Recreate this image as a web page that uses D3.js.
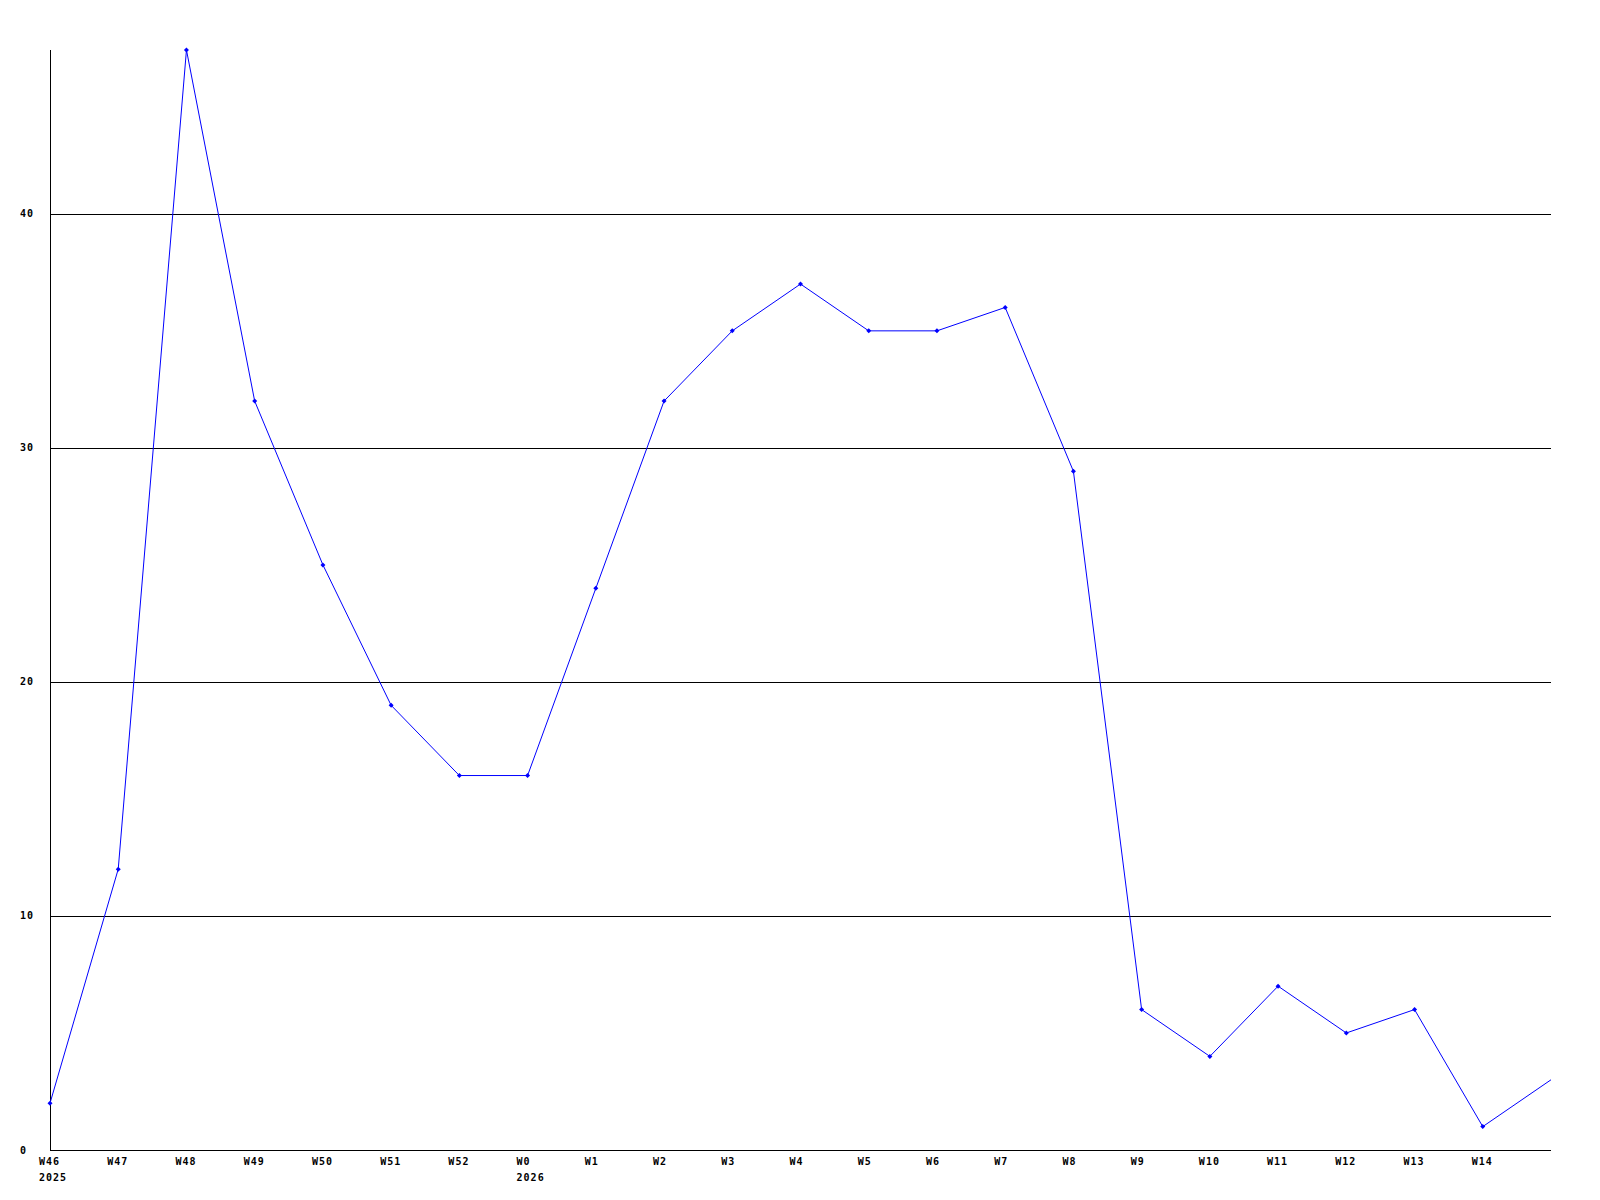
<!DOCTYPE html>
<html><head><meta charset="utf-8">
<script src="https://cdn.jsdelivr.net/npm/d3@7"></script>
<style>body{margin:0;background:#fff}text{font-family:"DejaVu Sans Mono",monospace;font-weight:bold;font-size:10px;letter-spacing:1px;fill:#000}</style>
</head><body><svg id="c" width="1600" height="1200"></svg>
<script>
const weeks = ["W46","W47","W48","W49","W50","W51","W52","W0","W1","W2","W3","W4","W5","W6","W7","W8","W9","W10","W11","W12","W13","W14","W15"];
const tickLabels = ["W46","W47","W48","W49","W50","W51","W52","W0","W1","W2","W3","W4","W5","W6","W7","W8","W9","W10","W11","W12","W13","W14",""];
const yearLabels = {"W46":"2025","W0":"2026"};
const values = [2,12,47,32,25,19,16,16,24,32,35,37,35,35,36,29,6,4,7,5,6,1,3];
const yTicks = [0,10,20,30,40];

const svg = d3.select("#c");
const L=50, R=1551, T=50, B=1150;
const x = d3.scalePoint().domain(weeks).range([L,R]);
const y = d3.scaleLinear().domain([0,47]).range([B,T]);

// gridlines
svg.append("g").selectAll("line").data(yTicks.filter(d=>d>0)).join("line")
  .attr("x1",L).attr("x2",R).attr("y1",d=>Math.round(y(d))+0.5).attr("y2",d=>Math.round(y(d))+0.5)
  .attr("stroke","#000").attr("shape-rendering","crispEdges");
// axes
svg.append("line").attr("x1",L+0.5).attr("x2",L+0.5).attr("y1",T).attr("y2",B).attr("stroke","#000").attr("shape-rendering","crispEdges");
svg.append("line").attr("x1",L).attr("x2",R).attr("y1",B+0.5).attr("y2",B+0.5).attr("stroke","#000").attr("shape-rendering","crispEdges");

// y labels
svg.append("g").selectAll("text").data(yTicks).join("text")
  .attr("x",20).attr("y",d=>y(d)).attr("dy","0.35em").text(d=>d);

// x labels
svg.append("g").selectAll("text").data(weeks).join("text")
  .attr("x",d=>x(d)-11).attr("y",1165).text((d,i)=>tickLabels[i]);
svg.append("g").selectAll("text").data(weeks.filter(d=>yearLabels[d])).join("text")
  .attr("x",d=>x(d)-11).attr("y",1181).text(d=>yearLabels[d]);

// line
const line = d3.line().x((d,i)=>x(weeks[i])).y(d=>y(d));
svg.append("path").datum(values).attr("d",line).attr("fill","none").attr("stroke","#0000ff").attr("stroke-width",1);
// markers (last point, at the plot edge, has none)
svg.append("g").selectAll("path").data(values.slice(0,-1)).join("path")
  .attr("transform",(d,i)=>`translate(${x(weeks[i])},${y(d)})`)
  .attr("d","M0,-2.5L2.5,0L0,2.5L-2.5,0Z").attr("fill","#0000ff");
</script></body></html>
